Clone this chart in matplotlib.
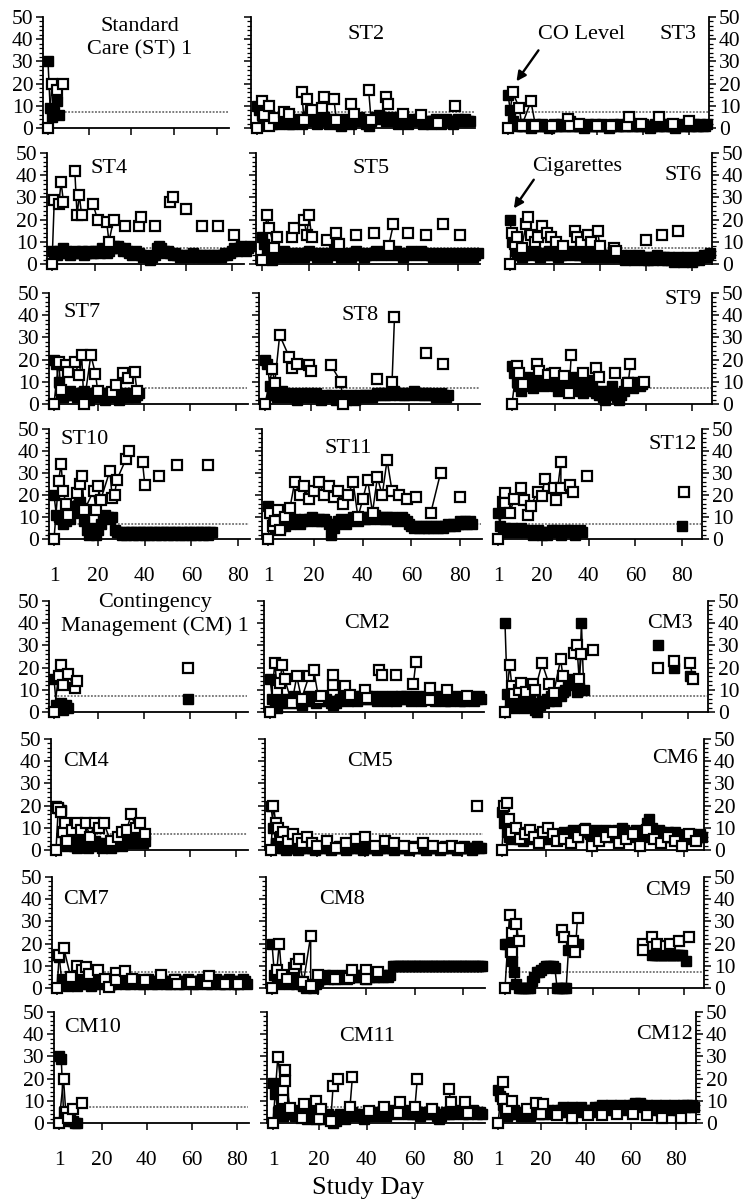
import matplotlib
matplotlib.use("Agg")
import matplotlib.pyplot as plt
import numpy as np

plt.rcParams['font.family'] = ['Liberation Serif', 'DejaVu Serif']

# ---------------- data ----------------
# cigarettes (filled squares) given as daily values starting at study day 1
ST1_CIG = [30, 9, 5, 7, 12, 6]
ST1_CO_DAY = [1, 3, 5, 8]
ST1_CO = [0, 20, 17, 20]

ST2_CIG = [10, 8, 6, 4, 5, 3, 2, 4, 3, 2, 3, 4, 3, 2, 2, 3, 4, 3, 2, 3, 5, 4, 3, 4, 2, 3, 4, 5, 3, 2,
           3, 4, 3, 2, 1, 3, 4, 3, 2, 3, 4, 5, 4, 3, 2, 1, 3, 4, 5, 6, 5, 4, 3, 4, 5, 4, 3, 2, 3, 4,
           3, 2, 3, 4, 3, 4, 3, 2, 3, 3, 2, 3, 4, 3, 2, 3, 4, 3, 3, 2, 3, 4, 3, 3, 4, 3, 3]
ST2_CO_DAY = [1, 3, 4, 6, 6, 8, 12, 14, 19, 20, 21, 23, 27, 28, 32, 33, 39, 40, 46, 47, 53, 54, 60, 67, 74, 81]
ST2_CO = [0, 12, 6, 10, 1, 4.5, 7, 6.5, 16, 3.5, 13, 8, 9, 14, 13, 3.5, 11, 6.5, 17, 3.5, 14, 11, 6.5, 5.7, 2.4, 10]

ST3_CIG = [15, 8, 3, 2, 1, 2, 1, 1, 2, 1, 0, 1, 2, 1, 1, 2, 1, 1, 0, 1, 2, 1, 1, 2, 1, 1, 2, 3, 1, 1,
           2, 1, 1, 0, 1, 2, 1, 1, 2, 1, 1, 2, 1, 1, 0, 1, 2, 1, 1, 2, 1, 1, 2, 3, 1, 1, 2, 1, 1, 2,
           1, 1, 0, 1, 2, 1, 1, 2, 1, 1, 2, 1, 1, 0, 1, 2, 1, 1, 2, 1, 1, 2, 1, 1, 2, 1, 1, 2]
ST3_CO_DAY = [1, 3, 6, 7, 11, 13, 20, 27, 28, 32, 40, 46, 53, 54, 59, 67, 73, 80]
ST3_CO = [0, 16, 9, 1, 12, 1, 1, 4, 1, 2, 1, 1, 1, 5, 2, 5, 2, 3]

ST4_CIG = [6, 5, 4, 6, 5, 7, 6, 5, 4, 5, 6, 5, 5, 6, 4, 5, 6, 5, 5, 6, 6, 5, 7, 6, 5, 6, 7, 8, 7, 8,
           7, 6, 7, 6, 5, 4, 5, 6, 5, 4, 3, 4, 3, 2, 3, 4, 7, 8, 7, 6, 5, 6, 5, 4, 5, 4, 3, 4, 3, 4,
           3, 4, 5, 4, 3, 4, 3, 4, 3, 4, 3, 4, 3, 4, 3, 4, 5, 4, 5, 6, 7, 6, 7, 8, 7, 6, 7, 8]
ST4_CO_DAY = [1, 2, 4, 5, 6, 11, 12, 13, 14, 19, 21, 25, 26, 28, 33, 39, 40, 46, 53, 54, 60, 67, 74, 81]
ST4_CO = [0, 29, 27, 37, 28, 42, 22, 31, 22, 27, 20, 19, 10, 20, 17, 17, 21, 17, 28, 30, 25, 17, 17, 13]

ST5_CIG = [12, 9, 5, 3, 2, 4, 3, 5, 4, 6, 3, 4, 5, 3, 4, 5, 4, 3, 5, 6, 5, 4, 3, 4, 5, 4, 3, 4, 5, 6,
           5, 4, 3, 4, 5, 4, 3, 4, 6, 5, 4, 3, 4, 5, 4, 5, 6, 5, 4, 5, 6, 5, 4, 5, 6, 5, 4, 3, 4, 5,
           6, 5, 4, 5, 6, 5, 4, 5, 4, 3, 4, 5, 4, 3, 4, 5, 4, 3, 4, 5, 4, 3, 4, 5, 4, 3, 4, 5]
ST5_CO_DAY = [1, 3, 4, 6, 7, 13, 14, 18, 19, 20, 21, 27, 31, 32, 39, 46, 52, 54, 60, 67, 74, 81]
ST5_CO = [2, 22, 16, 7, 12, 12, 16, 20, 13, 22, 12, 11, 14, 9, 13, 14, 8, 18, 14, 13, 18, 13]

ST6_CIG = [20, 10, 6, 4, 5, 3, 4, 5, 6, 5, 4, 5, 4, 3, 5, 4, 5, 6, 4, 5, 4, 3, 4, 5, 4, 5, 6, 5, 4, 5,
           4, 5, 4, 3, 4, 5, 4, 3, 4, 5, 4, 3, 4, 3, 4, 5, 4, 3, 4, 3, 2, 3, 4, 3, 2, 3, 4, 3, 2, 3,
           2, 3, 2, 3, 4, 3, 2, 3, 2, 3, 2, 1, 2, 3, 2, 1, 2, 3, 2, 1, 2, 3, 2, 3, 4, 3, 4, 5]
ST6_CO_DAY = [1, 2, 3, 4, 6, 8, 9, 10, 12, 13, 15, 17, 19, 21, 24, 29, 30, 32, 35, 36, 39, 40, 46, 47, 60, 67, 74]
ST6_CO = [0, 14, 9, 12, 7, 18, 21, 13, 10, 12, 17, 14, 12, 10, 8, 15, 12, 10, 13, 10, 15, 8, 7, 6, 11, 13, 15]

ST7_CIG = [20, 18, 10, 5, 3, 4, 5, 6, 4, 5, 3, 4, 5, 6, 3, 2, 4, 5, 3, 4, 5, 4, 2, 3, 4, 5, 3, 4, 2, 3,
           4, 5, 3, 4, 5, 3, 4, 5]
ST7_CO_DAY = [1, 3, 4, 6, 7, 10, 12, 13, 14, 17, 19, 20, 26, 28, 31, 33, 36, 37]
ST7_CO = [0, 19, 6.5, 17.6, 14.5, 18.7, 13, 22, 0, 22, 13.6, 5.8, 5.5, 8.6, 14, 11.7, 14.5, 5.8]

ST8_CIG = [20, 18, 8, 5, 4, 3, 5, 6, 4, 3, 4, 5, 3, 2, 4, 5, 3, 4, 5, 3, 4, 5, 3, 2, 3, 4, 3, 4, 3, 2,
           3, 4, 3, 2, 3, 4, 3, 2, 3, 4, 3, 4, 3, 4, 3, 4, 5, 4, 5, 4, 5, 4, 5, 6, 5, 4, 5, 4, 5, 4,
           5, 6, 5, 4, 5, 4, 5, 4, 5, 4, 3, 4, 5, 4, 3, 4]
ST8_CO_DAY = [1, 4, 5, 7, 11, 12, 14, 19, 20, 28, 32, 33, 47, 53, 54, 67, 74]
ST8_CO = [0, 15.6, 9.4, 31, 21, 16.4, 18, 17.5, 15, 17.5, 10, 0, 11.4, 9.7, 39, 23, 18]

ST9_CIG = [17, 14, 10, 8, 6, 9, 12, 10, 8, 7, 10, 12, 11, 9, 8, 10, 12, 14, 11, 8, 6, 8, 10, 11, 9, 7,
           10, 12, 10, 8, 6, 5, 7, 9, 11, 8, 6, 5, 4, 6, 3, 2, 4, 6, 8, 5, 3, 2, 4, 6, 9, 10, 8, 7,
           9, 10, 8, 9]
ST9_CO_DAY = [1, 3, 4, 6, 12, 13, 17, 20, 24, 26, 27, 32, 38, 39, 46, 52, 53, 59]
ST9_CO = [0, 17, 14, 9, 18, 15, 13, 14, 12.5, 5, 22, 14, 16, 12, 14, 9.5, 18, 10]

ST10_CIG = [20, 11, 10, 9, 7, 8, 10, 9, 12, 15, 13, 17, 14, 8, 4, 2, 3, 5, 2, 4, 7, 10, 11, 10, 9, 10,
            4, 3, 3, 2, 3, 2, 3, 3, 2, 3, 2, 3, 3, 2, 3, 2, 3, 3, 2, 3, 2, 3, 3, 2, 3, 2, 3, 3, 2,
            3, 2, 3, 3, 2, 3, 2, 3, 3, 2, 3, 2, 3, 3]
ST10_CO_DAY = [1, 3, 4, 5, 6, 7, 11, 12, 13, 14, 18, 19, 20, 21, 25, 26, 27, 28, 32, 33, 39, 40, 46, 54, 67]
ST10_CO = [0, 26.5, 34, 22, 16, 11, 20.8, 25, 28.5, 13, 22, 13, 24, 17.7, 31, 18.5, 20, 27, 36.5, 40,
           35, 24.6, 28.5, 33.5, 33.5]

ST11_CIG = [15, 12, 7, 5, 6, 5, 7, 6, 8, 7, 8, 9, 8, 7, 8, 9, 8, 9, 10, 9, 8, 9, 8, 9, 8, 7, 2, 5, 7, 8,
            9, 8, 7, 8, 9, 10, 9, 8, 9, 10, 9, 10, 9, 10, 11, 10, 9, 10, 9, 10, 9, 10, 9, 8, 9, 10,
            9, 8, 7, 6, 5, 6, 5, 6, 5, 6, 5, 6, 5, 6, 5, 6, 5, 6, 7, 6, 7, 6, 7, 8, 7, 8, 7, 8, 7]
ST11_CO_DAY = [1, 2, 3, 4, 5, 6, 8, 10, 12, 14, 16, 18, 20, 22, 24, 26, 28, 30, 32, 34, 36, 38, 40, 42,
               44, 46, 48, 50, 52, 55, 58, 62, 68, 72, 80]
ST11_CO = [0, 12, 6, 8, 13, 4, 10, 14, 26, 20, 24, 18, 22, 26, 20, 24, 19, 22, 16, 20, 26, 10, 18, 27,
           12, 28, 20, 36, 22, 20, 18, 19, 12, 30, 19]

ST12_CIG = [12, 6, 4, 5, 3, 4, 5, 4, 3, 4, 5, 4, 3, 4, 3, 2, 3, 4, 3, 2, 3, 2, 3, 4, 3, 4, 3, 2, 3, 4,
            3, 4, 3, 2, 3, 4, 3]
ST12_CIG_XDAY = [80]
ST12_CIG_X = [6]
ST12_CO_DAY = [1, 3, 4, 4, 6, 8, 11, 12, 14, 15, 18, 20, 21, 25, 26, 28, 28, 32, 33, 39, 81]
ST12_CO = [0, 17, 21, 16.5, 12, 18, 23.4, 17.7, 11, 15, 21.4, 19.5, 27.5, 23.4, 17.7, 35, 23.4, 24.5,
           21.4, 28.5, 21.4]

CM1_CIG = [15, 3, 2, 4, 1, 3, 2]
CM1_CIG_XDAY = [59]
CM1_CIG_X = [6]
CM1_CO_DAY = [1, 3, 4, 5, 7, 10, 11, 59]
CM1_CO = [0, 16, 21, 12, 17, 11, 14, 20]

CM2_CIG = [15, 6, 3, 2, 4, 5, 6, 5, 4, 6, 7, 5, 4, 3, 5, 6, 7, 6, 5, 4, 5, 6, 7, 6, 5, 4, 3, 4, 5, 6,
           7, 6, 5, 6, 7, 6, 5, 6, 7, 6, 7, 6, 7, 6, 5, 6, 7, 6, 5, 6, 7, 6, 5, 6, 7, 6, 7, 6, 5, 6,
           7, 6, 5, 6, 7, 6, 7, 6, 5, 6, 7, 6, 5, 6, 5, 6, 7, 6, 5, 6, 5, 6, 7, 6, 5, 6, 7, 6]
CM2_CO_DAY = [1, 3, 4, 5, 6, 7, 10, 12, 14, 17, 19, 21, 22, 27, 27, 32, 34, 40, 41, 46, 47, 53, 60, 61,
              67, 67, 74, 82]
CM2_CO = [0, 22, 10, 13, 21, 15, 4, 16, 6, 16, 19, 6, 7, 12, 16.7, 11.8, 7.8, 10, 6.4, 18.8, 16.7,
          16.7, 12.7, 22.4, 10.8, 5.5, 10, 7.4]

CM3_CIG = [40, 8, 4, 3, 2, 5, 6, 4, 2, 3, 5, 6, 4, 1, 0, 3, 5, 4, 6, 5, 7, 6, 5, 8, 7, 9, 10, 12, 15,
           14, 13, 9, 11, 40, 10]
CM3_CIG_XDAY = [67, 74, 81]
CM3_CIG_X = [30, 20, 16]
CM3_CO_DAY = [1, 3, 4, 5, 7, 8, 10, 13, 14, 17, 20, 22, 25, 26, 31, 32, 33, 34, 39, 67, 74, 81, 82]
CM3_CO = [0, 21, 11.5, 8, 10, 13, 9, 12.6, 10, 22, 12.6, 8.5, 23.7, 16.3, 26.7, 30.4, 15, 26, 28,
          20, 23, 22, 15]

CM4_CIG = [20, 19, 18, 8, 3, 2, 4, 3, 2, 1, 3, 4, 2, 3, 1, 2, 3, 4, 3, 2, 1, 2, 3, 2, 1, 2, 3, 4, 3, 2,
           3, 4, 5, 4, 3, 4, 5, 4, 3, 4]
CM4_CO_DAY = [1, 2, 3, 4, 5, 6, 8, 10, 12, 14, 16, 18, 20, 22, 25, 28, 30, 32, 34, 36, 38, 40]
CM4_CO = [0, 19, 17, 8, 12, 4, 9, 12, 9, 12, 6, 12, 10, 12, 4, 6, 8, 9, 16, 10, 12, 7]

CM5_CIG = [20, 10, 3, 1, 2, 1, 0, 1, 2, 1, 1, 0, 1, 2, 1, 1, 2, 1, 0, 1, 2, 1, 1, 2, 1, 0, 1, 1, 2, 1,
           1, 0, 1, 2, 1, 1, 2, 1, 0, 1, 1, 2, 1, 1, 0, 1, 2, 1, 1, 2, 1, 0, 1, 1, 2, 1, 1, 0, 1, 2,
           1, 1, 2, 1, 0, 1, 1, 2, 1, 1, 0, 1, 2, 1, 1, 2, 1, 0, 1, 1, 2, 1, 1, 0, 1, 2, 1, 1]
CM5_CO_DAY = [1, 2, 3, 4, 5, 6, 8, 10, 12, 14, 16, 18, 20, 24, 28, 32, 36, 40, 44, 48, 52, 56, 60, 64,
              68, 72, 76, 79, 86]
CM5_CO = [0, 20, 12, 10, 6, 8, 4, 7, 5, 3, 6, 3, 2, 4, 1, 3, 5, 6, 2, 4, 3, 2, 1, 3, 2, 1, 2, 1, 20]

CM6_CIG = [17, 12, 8, 6, 5, 7, 8, 6, 5, 4, 6, 8, 7, 5, 6, 7, 6, 5, 7, 8, 6, 5, 6, 7, 5, 6, 7, 8, 6, 7,
           8, 9, 7, 6, 8, 9, 10, 8, 7, 6, 8, 9, 7, 6, 8, 9, 7, 8, 6, 7, 9, 8, 10, 9, 7, 8, 6, 7, 9, 8,
           7, 6, 8, 12, 14, 10, 8, 7, 9, 8, 6, 7, 8, 6, 7, 8, 6, 5, 6, 7, 5, 6, 7, 6, 5, 6, 7, 6]
CM6_CO_DAY = [1, 2, 3, 4, 5, 7, 9, 11, 13, 15, 17, 19, 21, 23, 25, 28, 31, 34, 37, 40, 43, 46, 49, 52,
              55, 58, 61, 64, 67, 70, 73, 76, 79, 82, 85]
CM6_CO = [0, 20, 21, 14, 8, 10, 5, 7, 9, 6, 3, 8, 10, 7, 4, 5, 3, 6, 9, 2, 4, 6, 8, 3, 5, 7, 2, 9, 5,
          3, 6, 4, 2, 7, 4]

CM7_CIG = [15, 14, 4, 2, 3, 1, 2, 3, 2, 1, 2, 3, 4, 3, 2, 1, 2, 3, 2, 3, 4, 3, 2, 1, 2, 3, 2, 3, 4, 3,
           2, 3, 2, 3, 4, 3, 2, 3, 2, 3, 4, 3, 2, 3, 2, 3, 4, 3, 2, 3, 2, 3, 4, 3, 2, 3, 2, 3, 4, 3,
           2, 3, 2, 3, 4, 3, 2, 3, 2, 3, 4, 3, 2, 3, 2, 3, 4, 3, 2, 3, 2, 3, 4, 3, 2]
CM7_CO_DAY = [1, 2, 4, 7, 10, 12, 14, 15, 19, 22, 24, 27, 27, 31, 34, 40, 47, 53, 54, 60, 67, 68, 75, 81]
CM7_CO = [0, 15, 18, 5, 10, 8, 9.6, 6.4, 8, 4, 0.4, 6.7, 3.6, 7.8, 3.9, 3.6, 6, 3.6, 1.9, 2.9, 2.4,
          5.3, 2, 2]

CM8_CIG = [20, 6, 3, 2, 4, 3, 5, 2, 3, 4, 2, 3, 2, 1, 0, 2, 1, 0, 2, 3, 4, 5, 6, 4, 5, 6, 5, 4, 5, 6,
           5, 4, 5, 6, 5, 6, 5, 6, 5, 4, 5, 6, 5, 6, 5, 6, 5, 6, 5, 6, 10, 10, 10, 10, 10, 10, 10, 10,
           10, 10, 10, 10, 10, 10, 10, 10, 10, 10, 10, 10, 10, 10, 10, 10, 10, 10, 10, 10, 10, 10,
           10, 10, 10, 10, 10, 10, 10, 10]
CM8_CO_DAY = [1, 3, 4, 5, 7, 10, 11, 12, 14, 17, 17, 20, 27, 33, 34, 40, 40, 45]
CM8_CO = [0, 8, 20, 6, 4, 9, 11, 13, 2.6, 23.5, 1, 5.8, 4, 4.4, 8.2, 8.2, 4, 7.3]

CM9_CIG = [20, 20, 16, 12, 7, 2, 0, 0, 0, 0, 0, 0, 3, 5, 7, 7, 8, 9, 10, 10, 10, 10, 9, 0, 0, 0, 0, 0,
           17, 20, 20, 20, 20]
CM9_CIG_XDAY = [66, 67, 68, 69, 70, 71, 72, 73, 74, 75, 76, 77, 78, 79, 81]
CM9_CIG_X = [15, 15, 15, 15, 15, 15, 15, 15, 15, 15, 15, 15, 15, 15, 12]
CM9_CO_DAY = [1, 3, 4, 4, 6, 7, 26, 27, 31, 32, 33, 62, 62, 66, 68, 72, 74, 78, 82]
CM9_CO = [0, 33, 16, 25, 29, 21, 26, 23, 21, 16, 31.5, 20, 17, 23, 20, 19, 20, 21, 23]

CM10_CIG = [30, 29, 5, 2, 1, 2, 1, 0, 0]
CM10_CO_DAY = [1, 3, 4, 5, 7, 11]
CM10_CO = [0, 20, 5, 2.4, 6.3, 9.2]

CM11_CIG = [18, 13, 5, 6, 3, 4, 5, 6, 4, 3, 5, 6, 4, 3, 2, 4, 5, 3, 2, 4, 3, 2, 3, 4, 2, 0, 1, 3, 4, 3,
            2, 3, 4, 5, 4, 3, 4, 3, 2, 3, 4, 5, 4, 3, 4, 5, 4, 3, 4, 5, 6, 5, 4, 5, 6, 5, 4, 5, 4, 5,
            4, 3, 4, 5, 4, 5, 4, 5, 3, 2, 3, 4, 5, 4, 5, 4, 5, 6, 5, 4, 5, 4, 5, 6, 5, 4, 5, 4]
CM11_CO_DAY = [1, 3, 5, 5, 6, 6, 8, 13, 14, 19, 20, 21, 25, 26, 28, 33, 34, 41, 47, 53, 54, 60, 61, 67,
               74, 75, 81, 82]
CM11_CO = [0, 29.7, 11, 15, 19, 23.8, 6.8, 2.4, 8.7, 10, 2, 6.3, 1, 16.7, 19.8, 7.1, 20.6, 5.2, 7.1,
           4.3, 9.5, 7, 19.8, 6.3, 15.4, 9.5, 9.5, 4.3]

CM12_CIG = [15, 12, 8, 5, 3, 4, 5, 6, 4, 5, 3, 4, 5, 4, 3, 5, 6, 5, 4, 5, 4, 5, 6, 5, 4, 5, 6, 5, 6, 7,
            6, 5, 6, 7, 6, 5, 6, 7, 6, 5, 6, 5, 6, 7, 6, 7, 8, 7, 6, 7, 8, 7, 6, 7, 8, 7, 6, 7, 8, 7,
            8, 9, 8, 9, 8, 7, 8, 7, 6, 7, 8, 7, 6, 7, 8, 7, 6, 7, 8, 7, 6, 7, 8, 7, 8, 7, 8, 7]
CM12_CO_DAY = [1, 3, 3, 5, 7, 14, 18, 20, 21, 27, 34, 41, 47, 54, 61, 67, 74, 82]
CM12_CO = [0, 18.5, 10.8, 6.2, 9.7, 6.2, 8.8, 4.2, 8.5, 3.5, 2.3, 3.5, 3.5, 4.2, 4.2, 3.5, 2.3, 2.3]

CO_CRITERION = 7
XTICKS = [1, 20, 40, 60, 80]
XTICKLABELS = ['1', '20', '40', '60', '80']

TITLES = ["Standard\nCare (ST) 1", "ST2", "ST3", "ST4", "ST5", "ST6", "ST7", "ST8", "ST9",
          "ST10", "ST11", "ST12",
          "Contingency\nManagement (CM) 1", "CM2", "CM3", "CM4", "CM5", "CM6", "CM7", "CM8", "CM9",
          "CM10", "CM11", "CM12"]

PANELS = [
    (ST1_CIG, [], [], ST1_CO_DAY, ST1_CO), (ST2_CIG, [], [], ST2_CO_DAY, ST2_CO),
    (ST3_CIG, [], [], ST3_CO_DAY, ST3_CO), (ST4_CIG, [], [], ST4_CO_DAY, ST4_CO),
    (ST5_CIG, [], [], ST5_CO_DAY, ST5_CO), (ST6_CIG, [], [], ST6_CO_DAY, ST6_CO),
    (ST7_CIG, [], [], ST7_CO_DAY, ST7_CO), (ST8_CIG, [], [], ST8_CO_DAY, ST8_CO),
    (ST9_CIG, [], [], ST9_CO_DAY, ST9_CO), (ST10_CIG, [], [], ST10_CO_DAY, ST10_CO),
    (ST11_CIG, [], [], ST11_CO_DAY, ST11_CO), (ST12_CIG, ST12_CIG_XDAY, ST12_CIG_X, ST12_CO_DAY, ST12_CO),
    (CM1_CIG, CM1_CIG_XDAY, CM1_CIG_X, CM1_CO_DAY, CM1_CO), (CM2_CIG, [], [], CM2_CO_DAY, CM2_CO),
    (CM3_CIG, CM3_CIG_XDAY, CM3_CIG_X, CM3_CO_DAY, CM3_CO), (CM4_CIG, [], [], CM4_CO_DAY, CM4_CO),
    (CM5_CIG, [], [], CM5_CO_DAY, CM5_CO), (CM6_CIG, [], [], CM6_CO_DAY, CM6_CO),
    (CM7_CIG, [], [], CM7_CO_DAY, CM7_CO), (CM8_CIG, [], [], CM8_CO_DAY, CM8_CO),
    (CM9_CIG, CM9_CIG_XDAY, CM9_CIG_X, CM9_CO_DAY, CM9_CO), (CM10_CIG, [], [], CM10_CO_DAY, CM10_CO),
    (CM11_CIG, [], [], CM11_CO_DAY, CM11_CO), (CM12_CIG, [], [], CM12_CO_DAY, CM12_CO),
]

# ---------------- layout (pixels) ----------------
W, H = 745, 1203
ROWS = [(128, 17), (264, 153), (404, 293), (539, 429), (712, 601), (850, 739), (988, 877), (1123, 1012)]
COLX = [
    [(48, 217), (257, 453), (508, 689)],
    [(52, 232), (262, 458), (510, 692)],
    [(54, 236), (265, 458), (512, 692)],
    [(54, 238), (268, 460), (498, 682)],
    [(54, 236), (270, 462), (505, 688)],
    [(56, 236), (271, 462), (502, 684)],
    [(57, 236), (272, 463), (505, 684)],
    [(59, 237), (273, 463), (498, 676)],
]
# title positions (day, value)
TPOS = [(44, 40.5), (45, 42), (75, 42), (26, 43), (45, 43), (76, 40), (13, 41), (40, 40), (76, 47),
        (14, 45), (34, 41), (76, 43),
        (45, 44), (41, 40), (72, 40), (14, 40), (42, 40), (76, 41), (14, 40), (30, 40), (73, 44),
        (16, 43), (40, 39), (75, 40)]

FS = 15.5
MS = 7.6
fig = plt.figure(figsize=(W / 100, H / 100), dpi=100)


def segments(days, vals, gap=4):
    d = np.asarray(days, float)
    v = np.asarray(vals, float)
    if len(d) == 0:
        return []
    cuts = np.where(np.diff(d) > gap)[0] + 1
    return list(zip(np.split(d, cuts), np.split(v, cuts)))


for i, (cig, cxd, cxv, cod, cov) in enumerate(PANELS):
    r, c = divmod(i, 3)
    y0, y50 = ROWS[r]
    x1, x80 = COLX[r][c]
    ppd = (x80 - x1) / 79.0
    if c == 0:
        lpx, rpx = x1 - 5, x80 + 12
    elif c == 1:
        lpx, rpx = x1 - 6, x80 + 22
    else:
        lpx, rpx = x1 - 5, x80 + 20
    ax = fig.add_axes([lpx / W, 1 - y0 / H, (rpx - lpx) / W, (y0 - y50) / H])
    xmin = 1 + (lpx - x1) / ppd
    xmax = 1 + (rpx - x1) / ppd
    ax.set_xlim(xmin, xmax)
    ax.set_ylim(0, 50)
    ax.patch.set_alpha(0)

    for s in ['top', 'right', 'left', 'bottom']:
        ax.spines[s].set_visible(False)
    ax.spines['bottom'].set_visible(True)
    ax.spines['bottom'].set_linewidth(1.3)
    if c == 2:
        ax.spines['right'].set_visible(True)
        ax.spines['right'].set_linewidth(1.3)
        ax.yaxis.tick_right()
    else:
        ax.spines['left'].set_visible(True)
        ax.spines['left'].set_linewidth(1.3)
        ax.yaxis.tick_left()

    ax.set_yticks(np.arange(0, 51, 10))
    ax.set_yticks(np.arange(0, 51, 2), minor=True)
    ax.tick_params(axis='y', which='major', direction='out', length=5, width=1.1, labelsize=FS, pad=2)
    ax.tick_params(axis='y', which='minor', direction='out', length=3, width=0.9)
    if c == 1:
        ax.tick_params(axis='y', which='both', labelleft=False, labelright=False)
    ax.set_xticks(XTICKS)
    ax.set_xticks([], minor=True)
    ax.tick_params(axis='x', which='major', direction='out', length=5, width=1.1, labelsize=FS, pad=15)
    if r in (3, 7):
        ax.set_xticklabels(XTICKLABELS)
    else:
        ax.set_xticklabels([])

    # criterion line
    ax.plot([1, xmax - 0.5], [CO_CRITERION, CO_CRITERION], ls=(0, (1.2, 1.0)), color='0.35', lw=1.1,
            zorder=1, clip_on=False)

    # cigarettes (filled squares)
    cdays = list(range(1, len(cig) + 1)) + list(cxd)
    cvals = list(cig) + list(cxv)
    for sd, sv in segments(cdays, cvals):
        ax.plot(sd, sv, color='black', lw=1.1, marker='s', ms=MS, mfc='black', mec='black',
                zorder=2, clip_on=False)
    # CO level (open squares)
    for sd, sv in segments(cod, cov):
        ax.plot(sd, sv, color='black', lw=1.1, marker='s', ms=MS, mfc='white', mec='black', mew=1.6,
                zorder=3, clip_on=False)

    tx, ty = TPOS[i]
    ax.text(tx, ty, TITLES[i], ha='center', va='center', fontsize=16, linespacing=1.25, zorder=5)

    if i == 2:
        ax.text(33, 42, "CO Level", ha='center', va='center', fontsize=16)
        ax.annotate("", xy=(4, 20), xytext=(15, 36),
                    arrowprops=dict(arrowstyle='-|>', color='black', lw=1.7, mutation_scale=14))
    if i == 5:
        ax.text(30, 44, "Cigarettes", ha='center', va='center', fontsize=16)
        ax.annotate("", xy=(2, 24), xytext=(12, 39),
                    arrowprops=dict(arrowstyle='-|>', color='black', lw=1.7, mutation_scale=14))

fig.text(368 / W, 1 - 1188 / H, "Study Day", ha='center', va='center', fontsize=19)

fig.savefig("out.png", dpi=100)
